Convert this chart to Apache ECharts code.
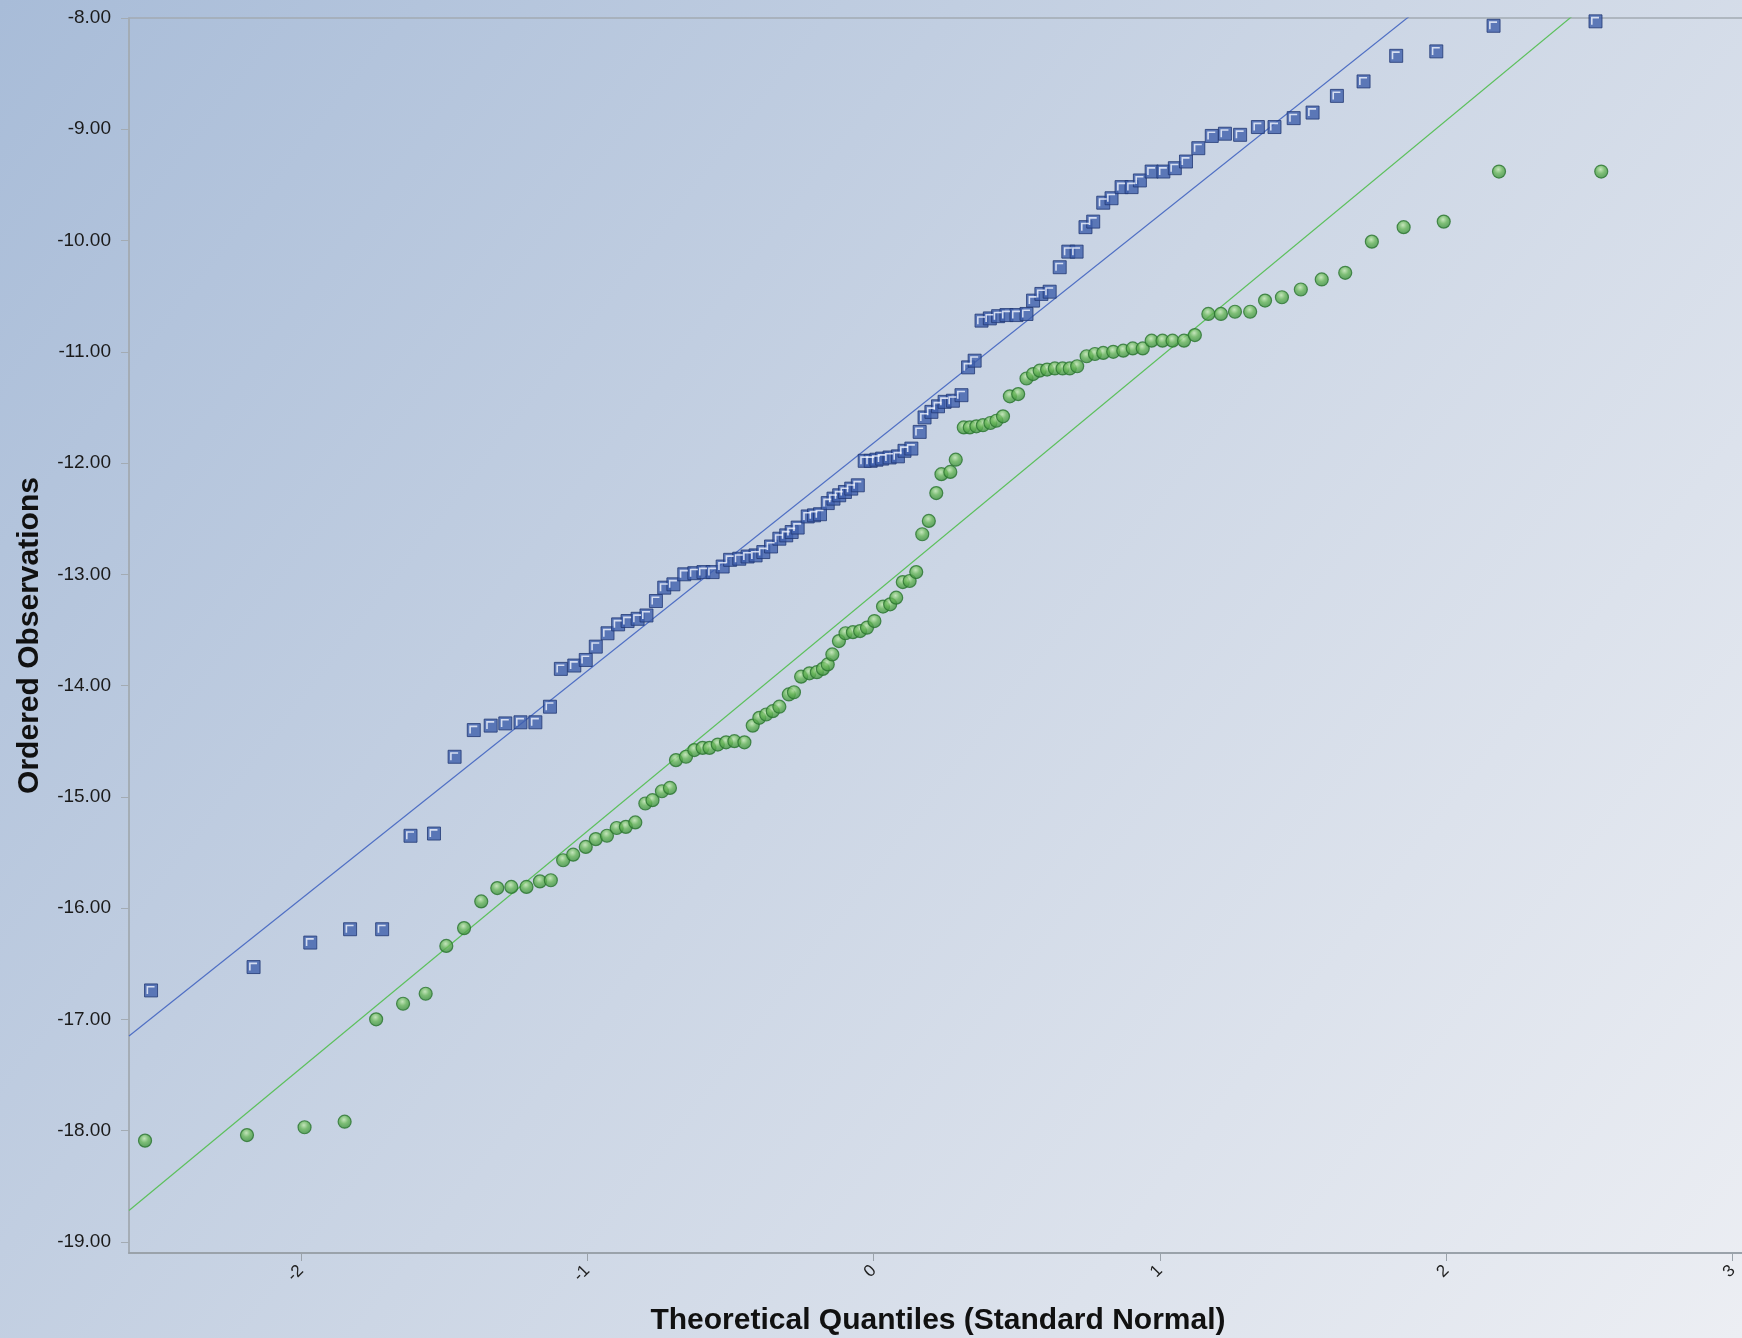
<!DOCTYPE html>
<html>
<head>
<meta charset="utf-8">
<title>Normal Q-Q Plot</title>
<script src="https://cdn.jsdelivr.net/npm/echarts@6/dist/echarts.min.js"></script>
<style>
  html, body { margin: 0; padding: 0; }
  #chart { width: 1742px; height: 1338px; }
</style>
</head>
<body>
<div id="chart"></div>
<script>
// Theoretical quantiles and ordered observations, series A (blue squares)
const quantilesA = [
  -2.523, -2.165, -1.967, -1.828, -1.716, -1.617, -1.535, -1.463, -1.396, -1.337,
  -1.286, -1.233, -1.181, -1.130, -1.092, -1.045, -1.005, -0.970, -0.929, -0.892,
  -0.859, -0.824, -0.793, -0.760, -0.731, -0.699, -0.661, -0.626, -0.594, -0.562,
  -0.527, -0.501, -0.469, -0.440, -0.412, -0.385, -0.358, -0.329, -0.305, -0.286,
  -0.265, -0.230, -0.208, -0.187, -0.160, -0.140, -0.120, -0.100, -0.078, -0.055,
  -0.031, -0.010, 0.010, 0.030, 0.056, 0.085, 0.108, 0.132, 0.161, 0.178,
  0.202, 0.225, 0.248, 0.277, 0.307, 0.330, 0.353, 0.377, 0.406, 0.435,
  0.464, 0.499, 0.534, 0.557, 0.586, 0.615, 0.650, 0.680, 0.709, 0.740,
  0.767, 0.802, 0.831, 0.866, 0.901, 0.930, 0.971, 1.012, 1.052, 1.091,
  1.134, 1.181, 1.227, 1.280, 1.342, 1.400, 1.467, 1.533, 1.618, 1.711,
  1.825, 1.965, 2.165, 2.521
];
const observedA = [
  -16.74, -16.53, -16.31, -16.19, -16.19, -15.35, -15.33, -14.64, -14.40, -14.36,
  -14.34, -14.33, -14.33, -14.19, -13.85, -13.82, -13.77, -13.65, -13.53, -13.45,
  -13.42, -13.40, -13.37, -13.24, -13.12, -13.09, -13.00, -12.99, -12.98, -12.98,
  -12.93, -12.87, -12.86, -12.84, -12.83, -12.80, -12.75, -12.68, -12.65, -12.62,
  -12.58, -12.48, -12.47, -12.46, -12.36, -12.32, -12.29, -12.26, -12.23, -12.20,
  -11.98, -11.98, -11.97, -11.96, -11.95, -11.94, -11.89, -11.87, -11.72, -11.59,
  -11.54, -11.49, -11.45, -11.44, -11.39, -11.14, -11.08, -10.72, -10.70, -10.68,
  -10.67, -10.67, -10.66, -10.54, -10.48, -10.46, -10.24, -10.10, -10.10, -9.88,
  -9.83, -9.66, -9.62, -9.52, -9.52, -9.46, -9.38, -9.38, -9.35, -9.29,
  -9.17, -9.06, -9.04, -9.05, -8.98, -8.98, -8.90, -8.85, -8.70, -8.57,
  -8.34, -8.30, -8.07, -8.03
];

// Theoretical quantiles and ordered observations, series B (green circles)
const quantilesB = [
  -2.544, -2.188, -1.987, -1.847, -1.737, -1.643, -1.564, -1.492, -1.430, -1.370,
  -1.314, -1.265, -1.212, -1.165, -1.127, -1.084, -1.049, -1.005, -0.970, -0.931,
  -0.897, -0.865, -0.832, -0.797, -0.772, -0.739, -0.711, -0.690, -0.655, -0.626,
  -0.597, -0.573, -0.544, -0.515, -0.486, -0.451, -0.422, -0.399, -0.375, -0.352,
  -0.329, -0.296, -0.278, -0.253, -0.224, -0.198, -0.177, -0.160, -0.144, -0.121,
  -0.098, -0.072, -0.047, -0.023, 0.003, 0.033, 0.058, 0.079, 0.102, 0.126,
  0.149, 0.170, 0.193, 0.219, 0.237, 0.268, 0.287, 0.315, 0.336, 0.359,
  0.382, 0.408, 0.429, 0.452, 0.476, 0.505, 0.534, 0.557, 0.580, 0.606,
  0.633, 0.660, 0.685, 0.711, 0.744, 0.773, 0.802, 0.837, 0.872, 0.905,
  0.940, 0.971, 1.009, 1.044, 1.084, 1.122, 1.169, 1.213, 1.262, 1.315,
  1.367, 1.426, 1.492, 1.565, 1.647, 1.740, 1.851, 1.991, 2.184, 2.541
];
const observedB = [
  -18.09, -18.04, -17.97, -17.92, -17.00, -16.86, -16.77, -16.34, -16.18, -15.94,
  -15.82, -15.81, -15.81, -15.76, -15.75, -15.57, -15.52, -15.45, -15.38, -15.35,
  -15.28, -15.27, -15.23, -15.06, -15.03, -14.95, -14.92, -14.67, -14.64, -14.58,
  -14.56, -14.56, -14.53, -14.51, -14.50, -14.51, -14.36, -14.29, -14.26, -14.23,
  -14.19, -14.08, -14.06, -13.92, -13.89, -13.88, -13.85, -13.81, -13.72, -13.60,
  -13.53, -13.52, -13.51, -13.48, -13.42, -13.29, -13.27, -13.21, -13.07, -13.06,
  -12.98, -12.64, -12.52, -12.27, -12.10, -12.08, -11.97, -11.68, -11.68, -11.67,
  -11.66, -11.64, -11.62, -11.58, -11.40, -11.38, -11.24, -11.20, -11.17, -11.16,
  -11.15, -11.15, -11.15, -11.13, -11.04, -11.02, -11.01, -11.00, -10.99, -10.97,
  -10.97, -10.90, -10.90, -10.90, -10.90, -10.85, -10.66, -10.66, -10.64, -10.64,
  -10.54, -10.51, -10.44, -10.35, -10.29, -10.01, -9.88, -9.83, -9.38, -9.38
];

// Reference lines: [intercept, slope] for each series
const refLineA = [-11.82, 2.05];
const refLineB = [-13.18, 2.13];

// Axis ranges and tick values
const xRange = [-2.6, 3.05];
const yRange = [-19.1, -8];
const xTickValues = [-2, -1, 0, 1, 2, 3];
const yTickValues = [-19, -18, -17, -16, -15, -14, -13, -12, -11, -10, -9, -8];

const pairs = (xs, ys) => xs.map((x, i) => [x, ys[i]]);
const lineEnds = ([b0, b1]) => xRange.map(x => [x, b0 + b1 * x]);

const FONT = '"Liberation Sans", Arial, sans-serif';
const isTick = (v, list) => list.some(t => Math.abs(t - v) < 1e-6);

const chart = echarts.init(document.getElementById('chart'), null, { renderer: 'canvas' });

chart.setOption({
  animation: false,
  backgroundColor: new echarts.graphic.LinearGradient(0, 0, 1, 1, [
    { offset: 0, color: '#a8bcd8' },
    { offset: 0.5, color: '#ccd6e5' },
    { offset: 1, color: '#eceef3' }
  ]),
  grid: {
    left: 129, top: 18, right: -5, bottom: 85,
    outerBoundsMode: 'none',
    containLabel: false,
    show: true,
    borderColor: '#a3abb3',
    borderWidth: 1.5,
    backgroundColor: 'transparent'
  },
  xAxis: {
    type: 'value',
    min: xRange[0], max: xRange[1],
    splitNumber: 5,
    name: 'Theoretical Quantiles (Standard Normal)',
    nameLocation: 'middle',
    nameGap: 53,
    nameTextStyle: { fontFamily: FONT, fontSize: 30, fontWeight: 'bold', color: '#111' },
    axisLine: { show: true, onZero: false, lineStyle: { color: '#9aa2aa', width: 2 } },
    axisTick: { show: true, length: 8, lineStyle: { color: '#9aa2aa' } },
    splitLine: { show: false },
    axisLabel: {
      rotate: 45,
      margin: 15,
      fontFamily: FONT, fontSize: 17, color: '#222',
      showMinLabel: false, showMaxLabel: false,
      formatter: v => isTick(v, xTickValues) ? String(Math.round(v)) : ''
    }
  },
  yAxis: {
    type: 'value',
    min: yRange[0], max: yRange[1],
    splitNumber: 11,
    name: 'Ordered Observations',
    nameLocation: 'middle',
    nameGap: 84,
    nameTextStyle: { fontFamily: FONT, fontSize: 30, fontWeight: 'bold', color: '#111' },
    axisLine: { show: true, onZero: false, lineStyle: { color: '#a3abb3', width: 1.5 } },
    axisTick: { show: true, length: 8, lineStyle: { color: '#a3abb3' } },
    splitLine: { show: false },
    axisLabel: {
      margin: 18,
      fontFamily: FONT, fontSize: 19, color: '#1a1a1a',
      showMinLabel: false,
      formatter: v => isTick(v, yTickValues) ? v.toFixed(2) : ''
    }
  },
  series: [
    {
      type: 'line', name: 'fitA', data: lineEnds(refLineA),
      symbol: 'none', silent: true, clip: true, z: 1,
      lineStyle: { color: '#4f6fc4', width: 1.2 }
    },
    {
      type: 'line', name: 'fitB', data: lineEnds(refLineB),
      symbol: 'none', silent: true, clip: true, z: 1,
      lineStyle: { color: '#5cc05c', width: 1.2 }
    },
    {
      type: 'scatter', name: 'B', data: pairs(quantilesB, observedB),
      symbol: 'circle', symbolSize: 13, silent: true, z: 2,
      itemStyle: {
        color: new echarts.graphic.RadialGradient(0.45, 0.35, 0.65, [
          { offset: 0, color: '#c2e8b0' },
          { offset: 0.45, color: '#6ab85a' },
          { offset: 1, color: '#3a8e3b' }
        ]),
        borderColor: '#2a7430', borderWidth: 1.2
      }
    },
    {
      type: 'scatter', name: 'A', data: pairs(quantilesA, observedA),
      symbol: 'rect', symbolSize: 13, silent: true, z: 3,
      itemStyle: { color: '#3f5fab', borderColor: '#223874', borderWidth: 1 }
    },
    {
      // inner bevel highlight on the blue squares
      type: 'scatter', name: 'A-highlight', data: pairs(quantilesA, observedA),
      symbol: 'path://M0,0H10V2H2V10H0Z', symbolSize: 8, symbolOffset: [-0.5, -0.5],
      silent: true, z: 4,
      itemStyle: { color: '#f4f7ff' }
    }
  ]
});
</script>
</body>
</html>
